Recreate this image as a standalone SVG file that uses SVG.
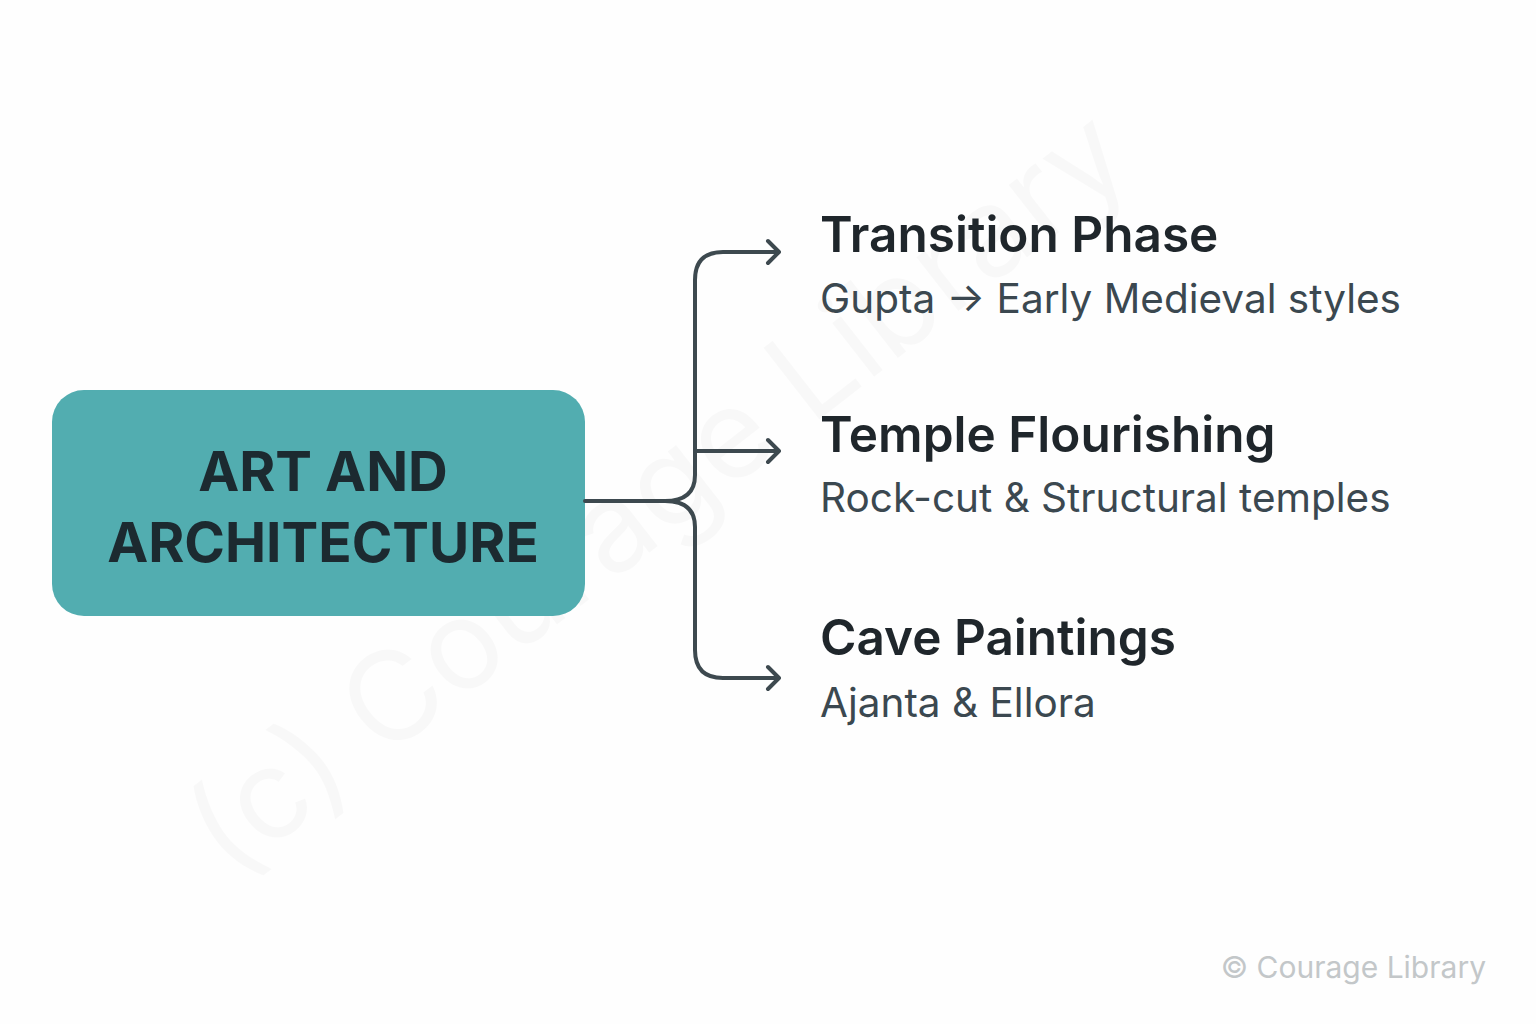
<svg xmlns="http://www.w3.org/2000/svg" width="1536" height="1024" viewBox="0 0 1536 1024">
<style>
.t{font-family:Inter,"Liberation Sans",sans-serif;font-weight:600;font-size:49.5px;fill:#1f262b}
.s{font-family:Inter,"Liberation Sans",sans-serif;font-size:40.5px;fill:#3b4850}
.c{fill:none;stroke:#3d494f;stroke-width:4;stroke-linecap:round;stroke-linejoin:round}
</style>
<rect width="1536" height="1024" fill="#fefefe"/>
<text transform="translate(230,880) rotate(-38)" font-family="Inter,'Liberation Sans',sans-serif" font-size="125" fill="#000" fill-opacity="0.022">(c) Courage Library</text>
<g id="root">
<rect x="52" y="390" width="533" height="226" rx="32" fill="#52adb0"/>
<text x="323" y="491" text-anchor="middle" font-family="Inter,'Liberation Sans',sans-serif" font-weight="700" font-size="55" fill="#1c2a30">ART AND</text>
<text x="323" y="562" text-anchor="middle" font-family="Inter,'Liberation Sans',sans-serif" font-weight="700" font-size="55" fill="#1c2a30">ARCHITECTURE</text>
</g>
<g id="connectors">
<path class="c" d="M585 501 H665 Q695 501 695 475 V280 Q695 252 723 252 H778"/>
<path class="c" d="M665 501 Q695 501 695 527 V650 Q695 678 723 678 H778"/>
<path class="c" d="M695 451 H778"/>
<path class="c" d="M768 241 L779 252 L768 263 M768 440 L779 451 L768 462 M768 667 L779 678 L768 689"/>
</g>
<g id="n1"><text class="t" x="820" y="252">Transition Phase</text><text class="s" x="820" y="313">Gupta → Early Medieval styles</text></g>
<g id="n2"><text class="t" x="820" y="452">Temple Flourishing</text><text class="s" x="820" y="512">Rock-cut &amp; Structural temples</text></g>
<g id="n3"><text class="t" x="820" y="655">Cave Paintings</text><text class="s" x="820" y="717">Ajanta &amp; Ellora</text></g>
<text x="1486" y="978" text-anchor="end" font-family="Inter,'Liberation Sans',sans-serif" font-size="30" fill="#c3c7c9">© Courage Library</text>
</svg>
